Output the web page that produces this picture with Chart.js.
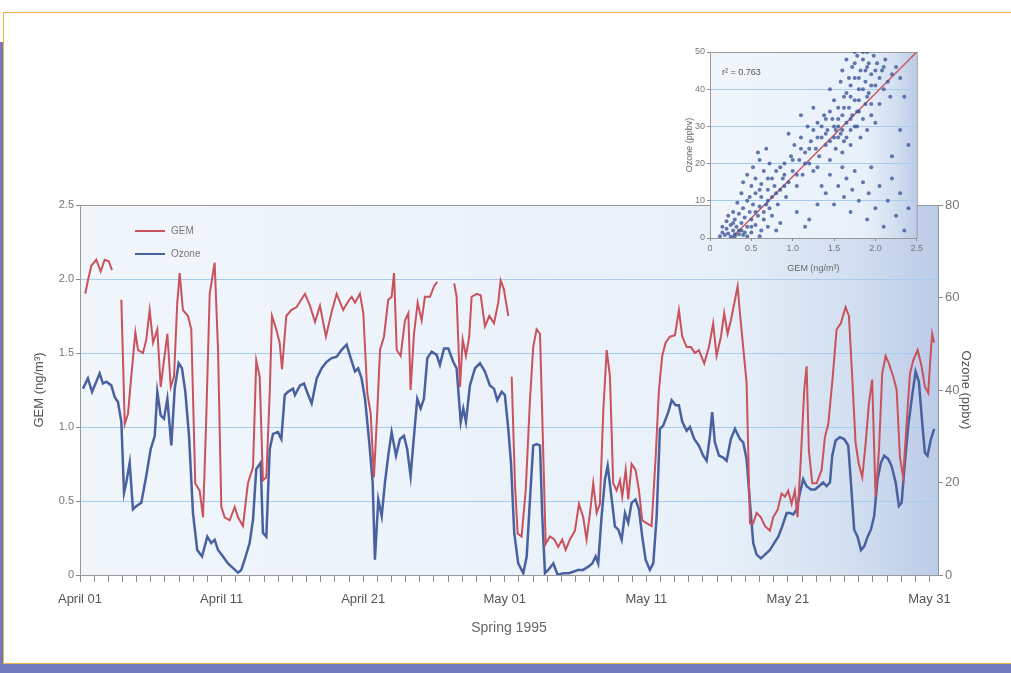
<!DOCTYPE html>
<html>
<head>
<meta charset="utf-8">
<script src="https://cdn.jsdelivr.net/npm/chart.js@4.4.1/dist/chart.umd.min.js"></script>
<style>
html, body { margin: 0; padding: 0; background: #fff; width: 1011px; height: 673px; overflow: hidden; }
#blueBack { position: absolute; left: 0; top: 42px; width: 1011px; height: 631px; background: #7079bd; }
#frame { position: absolute; left: 3px; top: 12px; width: 1020px; height: 652px; background: #fff; border: 1px solid #f2b33c; box-sizing: border-box; }
#mainChart { position: absolute; left: 0; top: 0; }
#insetChart { position: absolute; left: 655px; top: 44px; }
</style>
</head>
<body>
<div id="blueBack"></div>
<div id="frame"></div>
<canvas id="mainChart" width="1011" height="673"></canvas>
<canvas id="insetChart" width="270" height="236"></canvas>
<script>
// days since April 01 1995, GEM in ng/m3 (null = gap in record)
const gemReadings = [
  [0.37,1.90],[0.56,1.99],[0.80,2.09],[1.15,2.13],[1.46,2.05],[1.74,2.13],[2.03,2.12],[2.26,2.06],[2.6,null],
  [2.92,1.86],[3.16,1.02],[3.39,1.09],[3.62,1.34],[3.91,1.64],[4.10,1.52],[4.45,1.50],[4.68,1.59],[4.92,1.79],
  [5.16,1.57],[5.46,1.66],[5.70,1.27],[5.93,1.45],[6.17,1.63],[6.41,1.27],[6.64,1.34],[6.87,1.84],[7.04,2.04],
  [7.27,1.79],[7.63,1.75],[7.86,1.66],[8.14,0.62],[8.45,0.57],[8.69,0.39],[8.92,1.07],[9.16,1.90],[9.51,2.11],
  [9.75,1.52],[9.98,0.46],[10.22,0.39],[10.57,0.37],[10.93,0.46],[11.16,0.39],[11.51,0.33],[11.86,0.62],
  [12.22,0.73],[12.45,1.45],[12.69,1.34],[12.92,0.64],[13.16,0.66],[13.40,1.23],[13.56,1.75],[13.86,1.66],
  [14.10,1.57],[14.27,1.39],[14.57,1.75],[14.92,1.79],[15.30,1.81],[15.89,1.90],[16.24,1.82],[16.60,1.71],
  [16.95,1.82],[17.37,1.61],[17.78,1.78],[18.13,1.90],[18.59,1.79],[18.95,1.85],[19.19,1.88],[19.42,1.84],
  [19.77,1.90],[20.01,1.77],[20.29,1.23],[20.53,1.09],[20.76,0.66],[21.00,1.11],[21.19,1.52],[21.47,1.61],
  [21.77,1.86],[22.01,1.88],[22.18,2.04],[22.37,1.52],[22.65,1.48],[22.95,1.72],[23.19,1.77],[23.35,1.25],
  [23.59,1.63],[23.85,1.84],[24.13,1.72],[24.36,1.88],[24.72,1.88],[25.00,1.95],[25.23,1.98],[26.0,null],
  [26.43,1.97],[26.60,1.88],[26.84,1.27],[27.03,1.59],[27.26,1.48],[27.49,1.61],[27.66,1.88],[28.02,1.90],
  [28.30,1.89],[28.60,1.68],[28.91,1.75],[29.24,1.70],[29.54,1.84],[29.71,1.99],[29.94,1.93],[30.25,1.75],
  [30.37,null],
  [30.49,1.34],[30.72,0.62],[30.91,0.28],[31.19,0.26],[31.48,0.57],[31.78,1.18],[32.01,1.54],[32.25,1.66],
  [32.49,1.63],[32.65,1.07],[32.89,0.21],[33.19,0.26],[33.50,0.24],[33.78,0.19],[34.06,0.24],[34.30,0.17],
  [34.60,0.24],[34.96,0.30],[35.24,0.48],[35.54,0.39],[35.78,0.24],[36.02,0.42],[36.25,0.62],[36.49,0.42],
  [36.72,0.48],[36.96,1.11],[37.20,1.52],[37.43,1.34],[37.66,0.62],[37.90,0.57],[38.14,0.64],[38.30,0.53],
  [38.54,0.71],[38.72,0.51],[38.96,0.75],[39.24,0.71],[39.48,0.57],[39.71,0.37],[40.02,0.35],[40.37,0.33],
  [40.66,0.80],[40.89,1.25],[41.12,1.48],[41.36,1.57],[41.67,1.61],[42.02,1.62],[42.30,1.79],[42.54,1.61],
  [42.85,1.54],[43.15,1.54],[43.43,1.50],[43.71,1.52],[44.09,1.43],[44.42,1.54],[44.72,1.70],[44.96,1.48],
  [45.27,1.61],[45.50,1.77],[45.74,1.63],[45.97,1.72],[46.26,1.86],[46.45,1.95],[46.61,1.77],[46.84,1.54],
  [47.08,1.30],[47.32,0.35],[47.55,0.35],[47.79,0.42],[48.09,0.39],[48.38,0.33],[48.73,0.30],[48.96,0.39],
  [49.27,0.44],[49.55,0.55],[49.79,0.53],[50.02,0.57],[50.26,0.48],[50.49,0.57],[50.68,0.39],[50.92,0.80],
  [51.15,1.25],[51.32,1.41],[51.48,0.84],[51.72,0.62],[52.03,0.62],[52.38,0.71],[52.61,0.93],[52.85,1.02],
  [53.13,1.30],[53.44,1.66],[53.74,1.70],[54.07,1.81],[54.31,1.75],[54.54,1.34],[54.78,0.89],[55.01,0.75],
  [55.25,0.66],[55.49,0.89],[55.72,1.16],[55.95,1.32],[56.19,0.53],[56.43,0.84],[56.66,1.36],[56.90,1.48],
  [57.13,1.43],[57.44,1.34],[57.68,1.25],[57.91,0.80],[58.14,0.66],[58.38,1.02],[58.62,1.36],[58.85,1.45],
  [59.16,1.52],[59.44,1.41],[59.68,1.27],[59.91,1.23],[60.10,1.52],[60.19,1.63],[60.33,1.57]
];

// days since April 01 1995, ozone in ppbv
const ozoneReadings = [
  [0.21,40.3],[0.56,42.5],[0.85,39.6],[1.15,41.8],[1.39,43.6],[1.62,41.4],[1.86,41.8],[2.21,41.0],[2.45,38.5],
  [2.68,37.4],[2.92,33.1],[3.11,17.8],[3.27,20.0],[3.51,24.3],[3.74,14.2],[3.98,14.9],[4.33,15.6],[4.68,21.4],
  [4.99,27.2],[5.28,30.1],[5.46,39.6],[5.70,34.5],[5.93,33.8],[6.17,38.1],[6.45,28.0],[6.69,40.3],[6.97,45.8],
  [7.20,44.7],[7.44,39.6],[7.70,30.1],[7.98,13.4],[8.28,5.4],[8.62,4.0],[8.99,8.3],[9.27,6.9],[9.51,7.6],
  [9.75,5.4],[10.10,4.0],[10.45,2.5],[10.81,1.5],[11.16,0.5],[11.39,1.1],[11.63,3.3],[11.98,6.9],[12.22,12.0],
  [12.45,22.9],[12.76,24.3],[12.92,9.1],[13.16,8.3],[13.40,27.2],[13.63,30.5],[13.98,30.9],[14.22,29.4],
  [14.46,38.9],[14.69,39.6],[15.04,40.3],[15.18,38.9],[15.54,41.0],[15.82,41.4],[16.12,38.9],[16.36,37.1],
  [16.72,42.5],[17.07,44.7],[17.42,46.1],[17.78,46.9],[18.13,47.2],[18.48,48.7],[18.83,49.8],[19.12,46.9],
  [19.42,44.0],[19.65,44.7],[19.89,42.5],[20.13,38.1],[20.43,28.7],[20.67,20.0],[20.83,3.3],[21.07,16.3],
  [21.31,12.7],[21.54,20.0],[21.77,25.8],[22.01,30.9],[22.32,25.8],[22.60,29.4],[22.88,30.1],[23.11,27.2],
  [23.35,21.4],[23.59,30.1],[23.82,38.1],[24.06,36.0],[24.29,38.1],[24.53,46.9],[24.84,48.3],[25.19,47.6],
  [25.42,45.4],[25.71,49.0],[26.01,49.0],[26.36,46.1],[26.60,44.7],[26.89,33.1],[27.07,36.0],[27.26,33.1],
  [27.54,41.0],[27.90,44.7],[28.25,45.8],[28.60,44.0],[28.95,41.0],[29.24,40.3],[29.47,37.8],[29.78,39.6],
  [30.01,38.9],[30.25,31.6],[30.44,24.3],[30.67,9.1],[30.95,2.5],[31.31,0.4],[31.55,4.0],[31.78,16.3],
  [32.01,28.0],[32.25,28.3],[32.49,28.0],[32.65,12.7],[32.84,0.4],[33.07,1.1],[33.43,2.5],[33.74,0],
  [34.13,0.4],[34.53,0.4],[34.84,0.7],[35.19,1.1],[35.54,1.1],[35.90,1.8],[36.18,2.5],[36.42,4.0],[36.60,2.5],
  [36.84,12.7],[37.08,20.7],[37.27,23.6],[37.50,17.8],[37.78,10.5],[38.02,9.8],[38.26,7.6],[38.49,13.4],
  [38.72,11.3],[38.96,15.6],[39.24,16.3],[39.48,14.2],[39.71,8.3],[39.95,3.3],[40.25,1.1],[40.49,2.5],
  [40.73,12.7],[40.96,31.6],[41.19,32.3],[41.55,35.2],[41.79,37.8],[42.07,36.7],[42.30,36.7],[42.54,33.1],
  [42.85,31.2],[43.08,32.0],[43.38,29.4],[43.71,28.0],[44.02,25.8],[44.26,24.7],[44.49,30.1],[44.65,35.2],
  [44.84,28.7],[45.13,25.8],[45.43,25.4],[45.67,24.7],[45.97,29.4],[46.26,31.6],[46.61,29.4],[46.84,28.7],
  [47.08,25.1],[47.32,15.6],[47.55,6.9],[47.79,4.4],[48.09,3.6],[48.38,4.4],[48.73,5.4],[49.03,6.9],
  [49.32,8.3],[49.60,10.5],[49.91,13.4],[50.14,13.4],[50.38,13.1],[50.61,14.2],[50.85,17.8],[51.08,20.7],
  [51.32,19.2],[51.62,18.5],[51.91,18.5],[52.19,19.2],[52.49,20.0],[52.73,19.2],[52.97,20.0],[53.13,25.8],
  [53.37,29.1],[53.67,29.8],[53.97,29.4],[54.26,28.0],[54.45,20.0],[54.68,9.8],[54.92,8.3],[55.16,5.4],
  [55.39,6.2],[55.63,8.3],[55.86,9.8],[56.09,12.7],[56.33,20.7],[56.57,24.3],[56.80,25.8],[57.08,25.1],
  [57.32,23.6],[57.61,20.0],[57.84,14.9],[58.03,15.6],[58.26,24.3],[58.50,32.3],[58.78,38.9],[59.02,44.0],
  [59.25,41.8],[59.48,33.1],[59.67,26.5],[59.86,25.8],[60.10,29.4],[60.33,31.6]
];

// inset: GEM (ng/m3) vs ozone (ppbv)
const insetPoints = [
  [0.12,0.5],[0.15,1.5],[0.18,0.8],[0.2,2.5],[0.22,1.2],[0.25,0.4],[0.25,3.5],[0.28,2],[0.3,5],[0.3,1],
  [0.32,3],[0.35,6.5],[0.35,2],[0.38,4],[0.4,0.8],[0.4,8],[0.42,5.5],[0.45,3],[0.45,10],[0.48,7],
  [0.5,1.5],[0.5,5],[0.52,9],[0.55,3.5],[0.55,12],[0.58,6],[0.6,8.5],[0.62,2],[0.62,11],[0.65,5],
  [0.68,9],[0.7,13],[0.7,3],[0.2,4.5],[0.28,7],[0.33,9.5],[0.15,3],[0.42,1.5],[0.6,0.5],[0.75,6],
  [0.8,2],[0.85,4],[0.38,12],[0.4,15],[0.45,17],[0.5,14],[0.52,19],[0.55,16],[0.6,21],[0.62,14.5],
  [0.65,18],[0.7,16],[0.72,20],[0.75,11],[0.78,14],[0.8,18],[0.82,9],[0.85,13],[0.88,16],[0.9,20],
  [0.92,11],[0.95,15],[0.98,22],[0.58,23],[0.68,24],[1.0,18],[1.02,25],[1.05,14],[1.08,21],[1.1,27],
  [1.12,17],[1.15,23],[1.18,30],[1.2,20],[1.22,26],[1.25,18],[1.28,24],[1.3,31],[1.32,22],[1.35,27],
  [1.38,33],[1.4,25],[1.42,29],[1.45,21],[1.48,32],[1.5,27],[1.1,33],[0.95,28],[1.25,35],[1.52,24],
  [1.55,30],[1.55,35],[1.58,28],[1.6,33],[1.62,26],[1.62,38],[1.65,31],[1.68,35],[1.7,29],[1.72,33],
  [1.75,37],[1.78,30],[1.8,34],[1.82,27],[1.85,32],[1.88,36],[1.9,29],[1.6,23],[1.7,25],[1.5,37],
  [1.45,40],[1.58,42],[1.65,39],[1.95,33],[2.0,31],[2.05,36],[1.6,45],[1.65,48],[1.7,41],[1.72,46],
  [1.75,43],[1.78,49],[1.8,40],[1.82,45],[1.85,48],[1.88,42],[1.9,46],[1.92,39],[1.95,44],[1.98,49],
  [2.0,41],[2.02,47],[2.05,43],[2.08,45],[2.1,40],[2.12,48],[2.15,42],[2.2,44],[2.25,46],[1.75,50],
  [1.9,50],[2.18,38],[2.3,43],[1.4,12],[1.45,17],[1.5,9],[1.55,14],[1.6,19],[1.62,11],[1.65,16],
  [1.7,7],[1.72,13],[1.75,18],[1.8,10],[1.85,15],[1.9,5],[1.92,12],[1.95,19],[2.0,8],[2.05,14],
  [2.1,3],[2.15,10],[2.2,16],[2.25,6],[2.3,12],[2.35,2],[2.4,8],[1.2,5],[1.3,9],[1.05,7],
  [1.15,3],[2.3,29],[2.35,38],[2.4,25],[2.2,22],[1.35,14],
  [0.3,0.5],[0.35,1],[0.45,0.5],[0.5,3],[0.55,7],[0.65,7],[0.7,10],[0.8,12],[0.9,14],[0.75,16],
  [0.85,19],[1.0,21],[1.05,17],[1.15,20],[1.2,24],[1.3,27],[1.35,30],[1.4,28],[1.45,26],[1.5,30],
  [1.55,32],[1.6,29],[1.65,27],[1.7,32],[1.75,30],[1.78,34],[1.8,37],[1.85,40],[1.88,45],[1.92,47],
  [1.95,41],[1.7,38],[1.62,35],[1.68,43],[1.8,43],[2.0,45],[1.9,38],[1.55,27],[1.45,34],[1.25,29],
  [0.6,13],[0.48,11],[0.28,4],[0.22,6],[0.38,2],[1.75,47],[1.85,50],[1.95,36],[2.1,46],[1.4,32],
  [1.52,29],[1.3,19],[1.1,24],[0.9,17],[0.72,8]
];
const regressionLine = [[0.26, 0], [2.5, 50]];
const r2Label = 'r\u00B2 = 0.763';

const tickDays = [0, 10, 20, 30, 40, 50, 60];
const tickNames = ['April 01', 'April 11', 'April 21', 'May 01', 'May 11', 'May 21', 'May 31'];

const FONT = 'Liberation Sans, Arial, sans-serif';
const toXY = arr => arr.map(([x, y]) => ({ x: x, y: y }));

// light blue plot area, darker toward the right edge
const plotBackground = {
    id: 'plotBackground',
    beforeDraw(chart) {
        const { ctx, chartArea: a } = chart;
        const g = ctx.createLinearGradient(a.left, 0, a.right, 0);
        g.addColorStop(0, '#f1f6fb');
        g.addColorStop(0.75, '#e8f0f9');
        g.addColorStop(0.9, '#d2dff0');
        g.addColorStop(1, '#bccbe8');
        ctx.save();
        ctx.fillStyle = g;
        ctx.fillRect(a.left, a.top, a.right - a.left, a.bottom - a.top);
        ctx.restore();
    }
};

const insideLegend = {
    id: 'insideLegend',
    afterDraw(chart) {
        const { ctx, chartArea: a } = chart;
        chart.data.datasets.forEach((ds, i) => {
            const x = a.left + 55;
            const y = a.top + 26 + i * 23;
            ctx.save();
            ctx.strokeStyle = ds.borderColor;
            ctx.lineWidth = 2;
            ctx.beginPath();
            ctx.moveTo(x, y);
            ctx.lineTo(x + 30, y);
            ctx.stroke();
            ctx.fillStyle = '#777';
            ctx.font = '10px ' + FONT;
            ctx.textBaseline = 'middle';
            ctx.fillText(ds.label, x + 36, y);
            ctx.restore();
        });
    }
};

const r2Text = {
    id: 'r2Text',
    afterDraw(chart) {
        const { ctx, chartArea: a } = chart;
        ctx.save();
        ctx.fillStyle = '#555';
        ctx.font = '9px ' + FONT;
        ctx.textBaseline = 'middle';
        ctx.fillText(r2Label, a.left + 12, a.top + 21);
        ctx.restore();
    }
};

new Chart(document.getElementById('mainChart'), {
    type: 'line',
    data: {
        datasets: [
            {
                label: 'GEM',
                data: toXY(gemReadings),
                yAxisID: 'y',
                borderColor: '#c9525c',
                borderWidth: 2,
                pointRadius: 0,
                spanGaps: false
            },
            {
                label: 'Ozone',
                data: toXY(ozoneReadings),
                yAxisID: 'y2',
                borderColor: '#4a61a0',
                borderWidth: 2.5,
                pointRadius: 0
            }
        ]
    },
    options: {
        responsive: false,
        animation: false,
        layout: { padding: { top: 205, left: 0, right: 0, bottom: 0 } },
        plugins: { legend: { display: false }, tooltip: { enabled: false } },
        scales: {
            x: {
                type: 'linear',
                min: 0,
                max: 60.6,
                afterBuildTicks: s => { s.ticks = Array.from({ length: 61 }, (_, i) => ({ value: i })); },
                afterFit: s => { s.height = 98; },
                grid: { drawOnChartArea: false, tickLength: 7, tickColor: '#8a8a8a' },
                border: { color: '#999' },
                ticks: {
                    autoSkip: false,
                    maxRotation: 0,
                    padding: 10,
                    color: '#555',
                    font: { family: FONT, size: 13 },
                    callback: v => {
                        const i = tickDays.indexOf(v);
                        return i >= 0 ? tickNames[i] : '';
                    }
                },
                title: {
                    display: true,
                    text: 'Spring 1995',
                    color: '#666',
                    font: { family: FONT, size: 14 },
                    padding: { top: 0, bottom: 36 }
                }
            },
            y: {
                position: 'left',
                min: 0,
                max: 2.5,
                afterFit: s => { s.width = 80; },
                grid: {
                    color: c => c.tick.value === 2.5 ? '#9a9a9a' : (c.tick.value === 0 ? 'rgba(0,0,0,0)' : '#a6cdef'),
                    tickLength: 4,
                    tickColor: '#8a8a8a'
                },
                border: { color: '#999' },
                ticks: {
                    stepSize: 0.5,
                    padding: 2,
                    color: '#777',
                    font: { family: FONT, size: 11 },
                    callback: v => v === 0 ? '0' : v.toFixed(1)
                },
                title: {
                    display: true,
                    text: 'GEM (ng/m\u00B3)',
                    color: '#555',
                    font: { family: FONT, size: 13 },
                    padding: { top: 32, bottom: 0 }
                }
            },
            y2: {
                position: 'right',
                min: 0,
                max: 80,
                afterFit: s => { s.width = 73; },
                grid: { drawOnChartArea: false, tickLength: 5, tickColor: '#8a8a8a' },
                border: { color: '#999' },
                ticks: {
                    stepSize: 20,
                    padding: 2,
                    color: '#777',
                    font: { family: FONT, size: 13 }
                },
                title: {
                    display: true,
                    text: 'Ozone (ppbv)',
                    color: '#555',
                    font: { family: FONT, size: 13 },
                    padding: { top: 38, bottom: 0 }
                }
            }
        }
    },
    plugins: [plotBackground, insideLegend]
});

new Chart(document.getElementById('insetChart'), {
    type: 'scatter',
    data: {
        datasets: [
            {
                data: toXY(insetPoints),
                pointRadius: 2,
                pointBorderWidth: 0,
                backgroundColor: 'rgba(62,88,155,0.8)'
            },
            {
                type: 'line',
                data: toXY(regressionLine),
                borderColor: '#c85a60',
                borderWidth: 1.5,
                pointRadius: 0
            }
        ]
    },
    options: {
        responsive: false,
        animation: false,
        layout: { padding: { top: 8, left: 0, right: 8, bottom: 0 } },
        plugins: { legend: { display: false }, tooltip: { enabled: false } },
        scales: {
            x: {
                type: 'linear',
                min: 0,
                max: 2.5,
                afterFit: s => { s.height = 42; },
                grid: { drawOnChartArea: false, tickLength: 3, tickColor: '#8a8a8a' },
                border: { color: '#999' },
                ticks: {
                    stepSize: 0.5,
                    padding: 2,
                    color: '#777',
                    font: { family: FONT, size: 9 },
                    callback: v => v === 0 ? '0' : v.toFixed(1)
                },
                title: {
                    display: true,
                    text: 'GEM (ng/m\u00B3)',
                    color: '#666',
                    font: { family: FONT, size: 9 },
                    padding: { top: 0, bottom: 6 }
                }
            },
            y: {
                min: 0,
                max: 50,
                afterFit: s => { s.width = 55; },
                grid: {
                    color: c => c.tick.value === 50 ? '#9a9a9a' : (c.tick.value === 0 ? 'rgba(0,0,0,0)' : '#a6cdef'),
                    tickLength: 3,
                    tickColor: '#8a8a8a'
                },
                border: { color: '#999' },
                ticks: {
                    stepSize: 10,
                    padding: 2,
                    color: '#777',
                    font: { family: FONT, size: 9 }
                },
                title: {
                    display: true,
                    text: 'Ozone (ppbv)',
                    color: '#666',
                    font: { family: FONT, size: 9 },
                    padding: { top: 29, bottom: 0 }
                }
            }
        }
    },
    plugins: [plotBackground, r2Text,
        {
            id: 'rightEdge',
            afterDraw(chart) {
                const { ctx, chartArea: a } = chart;
                ctx.save();
                ctx.strokeStyle = '#999';
                ctx.lineWidth = 1;
                ctx.beginPath();
                ctx.moveTo(a.right + 0.5, a.top);
                ctx.lineTo(a.right + 0.5, a.bottom);
                ctx.stroke();
                ctx.restore();
            }
        }]
});
</script>
</body>
</html>
